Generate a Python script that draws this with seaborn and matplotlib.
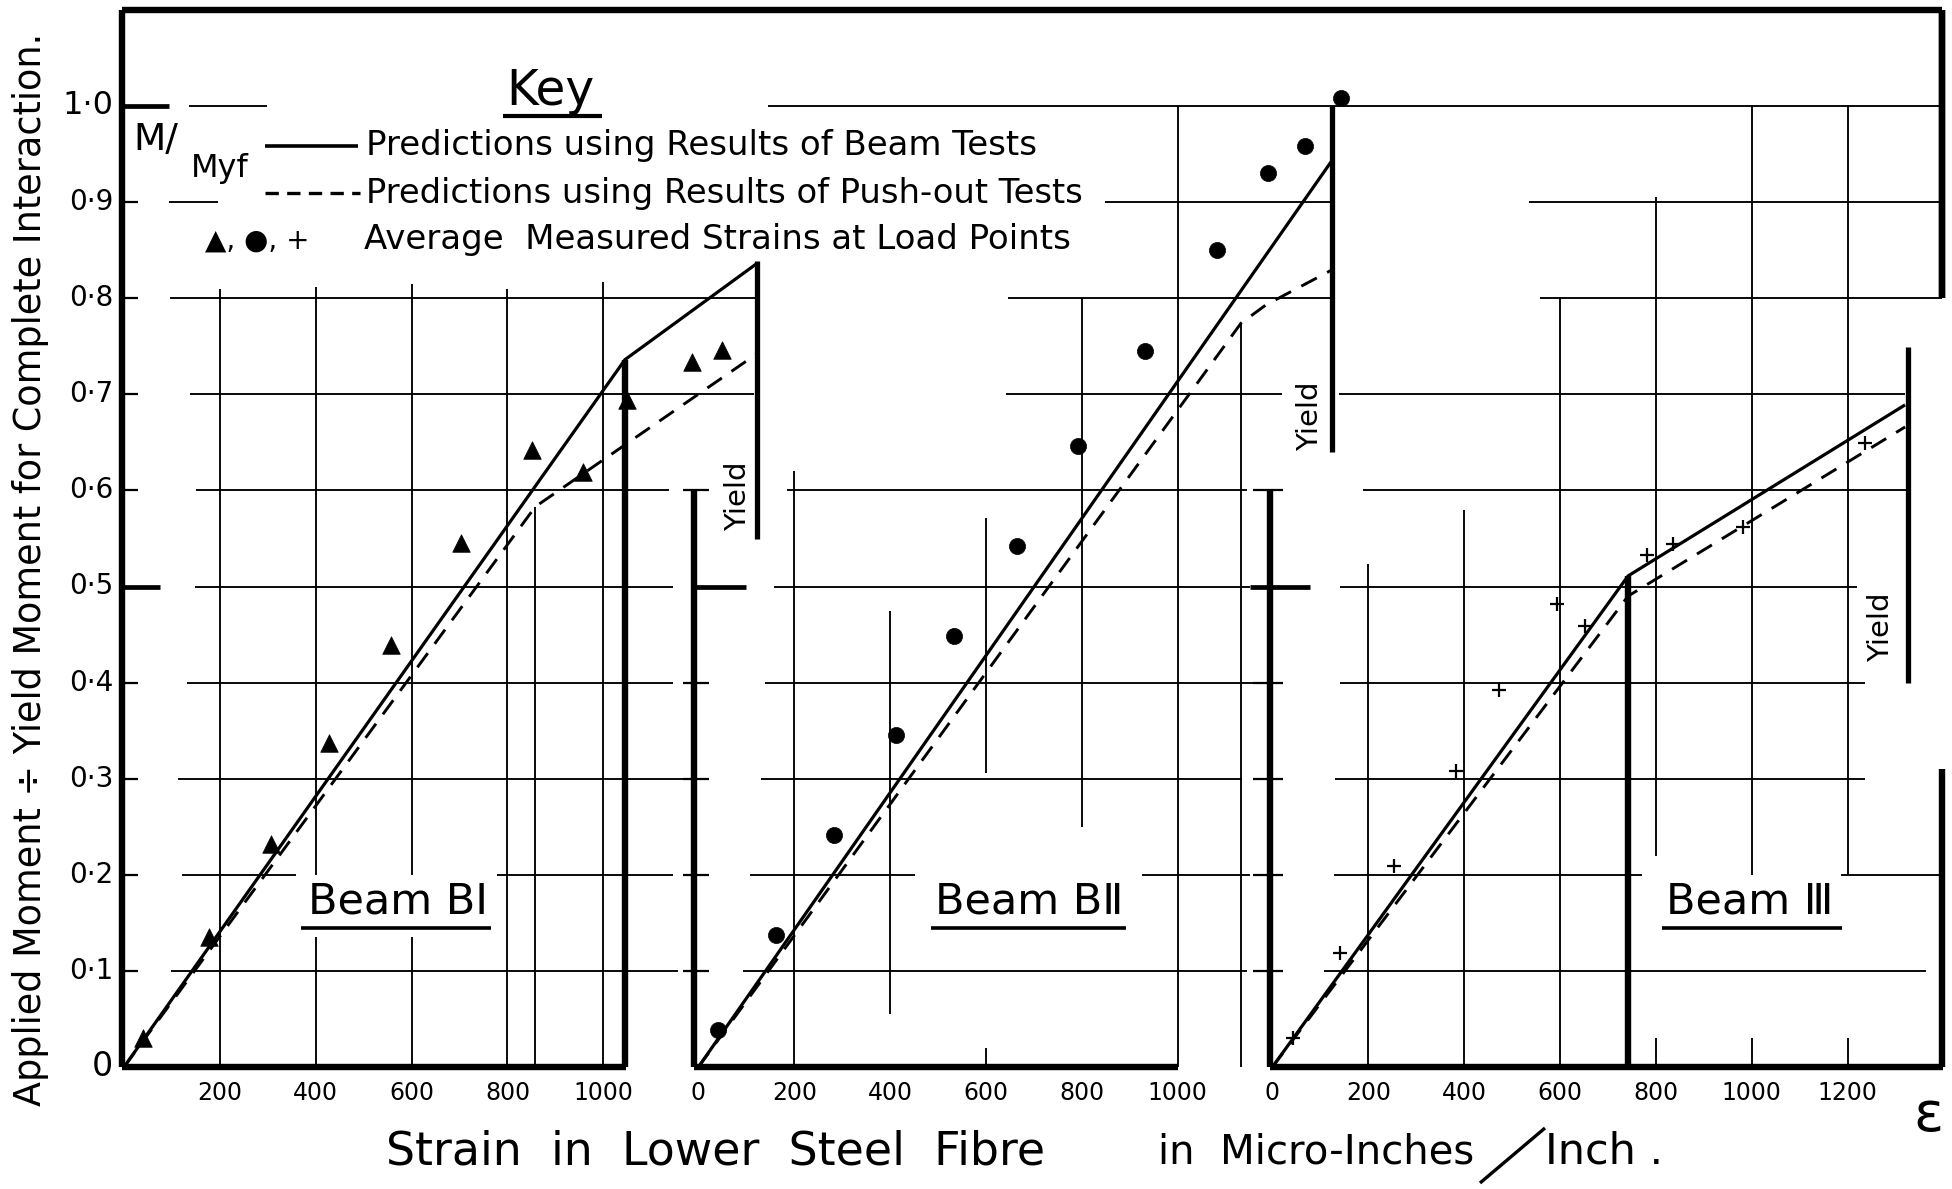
import matplotlib
matplotlib.use("Agg")
import matplotlib.pyplot as plt
import seaborn as sns

# ---------------------------------------------------------------------------
# Moment ratio M/Myf against strain in the lower steel fibre (micro-in/in)
# ---------------------------------------------------------------------------
b1_beam_strain = [0, 1045, 1320]
b1_beam_ratio = [0.0, 0.736, 0.836]
b1_push_strain = [0, 858, 1320]
b1_push_ratio = [0.0, 0.583, 0.742]
b1_meas_strain = [39, 177, 306, 428, 556, 703, 851, 958, 1050, 1185, 1248]
b1_meas_ratio = [0.030, 0.135, 0.232, 0.337, 0.439, 0.545, 0.642, 0.619, 0.694, 0.734, 0.746]

b2_beam_strain = [0, 1320]
b2_beam_ratio = [0.0, 0.942]
b2_push_strain = [0, 1132, 1184, 1320]
b2_push_ratio = [0.0, 0.774, 0.793, 0.829]
b2_meas_strain = [41, 161, 282, 412, 533, 665, 792, 931, 1082, 1189, 1265, 1341]
b2_meas_ratio = [0.038, 0.137, 0.241, 0.345, 0.448, 0.542, 0.646, 0.745, 0.850, 0.930, 0.958, 1.008]

b3_beam_strain = [0, 742, 1320]
b3_beam_ratio = [0.0, 0.511, 0.689]
b3_push_strain = [0, 742, 1320]
b3_push_ratio = [0.0, 0.490, 0.666]
b3_meas_strain = [44, 142, 253, 383, 472, 593, 653, 781, 836, 981, 1236]
b3_meas_ratio = [0.030, 0.119, 0.209, 0.308, 0.392, 0.482, 0.459, 0.533, 0.544, 0.562, 0.649]

# yield strain of each beam and the extent of its marker bar
yield_strain = [1320, 1322, 1325]
yield_extent = [(0.549, 0.839), (0.640, 1.0), (0.400, 0.749)]

y_tick_values = [0.0, 0.1, 0.2, 0.3, 0.4, 0.5, 0.6, 0.7, 0.8, 0.9, 1.0]
y_tick_labels = ["0", "0·1", "0·2", "0·3", "0·4", "0·5", "0·6", "0·7", "0·8", "0·9", "1·0"]
b1_x_ticks = [200, 400, 600, 800, 1000]
b2_x_ticks = [0, 200, 400, 600, 800, 1000]
b3_x_ticks = [0, 200, 400, 600, 800, 1000, 1200]

beam_titles = ["Beam BⅠ", "Beam BⅡ", "Beam Ⅲ"]

# ---------------------------------------------------------------------------
# Page geometry (pixels) and common scales
# ---------------------------------------------------------------------------
FIG_W, FIG_H = 1952, 1189
PX_PER_STRAIN = 0.47933
PX_PER_UNIT = 961.0
ZERO_ROW = 1067.0            # pixel row of M/Myf = 0
ORIGINS = [124.0, 698.4, 1272.4]  # pixel column of zero strain for each beam

INK = "black"
THIN, MED, THICK = 1.35, 2.3, 4.6

sns.set_theme(style="white")
plt.rcParams["font.family"] = ["DejaVu Sans"]
plt.rcParams["lines.solid_capstyle"] = "butt"

fig = plt.figure(figsize=(FIG_W / 100, FIG_H / 100), dpi=100)
fig.patch.set_facecolor("white")


def limits_for(origin):
    xlim = (-origin / PX_PER_STRAIN, (FIG_W - origin) / PX_PER_STRAIN)
    ylim = ((ZERO_ROW - FIG_H) / PX_PER_UNIT, ZERO_ROW / PX_PER_UNIT)
    return xlim, ylim


def make_panel():
    ax = fig.add_axes([0, 0, 1, 1])
    ax.set_axis_off()
    ax.patch.set_visible(False)
    return ax


def rule(ax, hsegs=(), vsegs=(), lw=THIN):
    for v, a, b in hsegs:
        ax.plot([a, b], [v, v], color=INK, lw=lw)
    for s, a, b in vsegs:
        ax.plot([s, s], [a, b], color=INK, lw=lw)


def draw_beam(ax, bs, br, ps, pr, ms, mr, marker, size, mlw):
    sns.lineplot(x=bs, y=br, ax=ax, color=INK, linewidth=MED, sort=False,
                 estimator=None, legend=False)
    sns.lineplot(x=ps, y=pr, ax=ax, color=INK, linewidth=2.1, linestyle=(0, (6, 4)),
                 sort=False, estimator=None, legend=False)
    if marker == "+":
        sns.scatterplot(x=ms, y=mr, ax=ax, marker=marker, s=size, color=INK,
                        linewidth=mlw, legend=False, zorder=5)
    else:
        sns.scatterplot(x=ms, y=mr, ax=ax, marker=marker, s=size, color=INK,
                        edgecolor=INK, linewidth=mlw, legend=False, zorder=5)


def x_tick_labels(ax, ticks):
    for t in ticks:
        ax.text(t, -0.027, str(t), ha="center", va="center", fontsize=17, color=INK)


ax1, ax2, ax3 = [make_panel() for _ in ORIGINS]

# ---------------------------- Beam BI --------------------------------------
rule(ax1,
     hsegs=[(0.1, 99, 1156), (0.2, 122, 358), (0.2, 779, 1145), (0.3, 112, 1169),
            (0.4, 132, 1145), (0.5, 148, 1145), (0.6, 151, 1138), (0.7, 137, 1314),
            (0.8, 96, 1319), (0.9, 94, 197), (1.0, 136, 299)],
     vsegs=[(200, 0, 0.81), (400, 0, 0.135), (400, 0.2, 0.812), (600, 0, 0.135),
            (600, 0.2, 0.815), (800, 0, 0.81), (1000, 0, 0.817), (858, 0, 0.583)])
# tick stubs on the common ordinate
rule(ax1, hsegs=[(v, -5, 30) for v in y_tick_values if v not in (0.5, 1.0)], lw=1.6)
rule(ax1, hsegs=[(0.5, -5, 75), (1.0, -5, 94)], lw=3.4)
# axes, frame and end-of-linear column
rule(ax1, hsegs=[(0.0, -5, 1048), (1.10, -5, 3792)],
     vsegs=[(-5, 0, 1.10), (1045, 0, 0.736), (3792, 0.80, 1.10)], lw=THICK)
draw_beam(ax1, b1_beam_strain, b1_beam_ratio, b1_push_strain, b1_push_ratio,
          b1_meas_strain, b1_meas_ratio, "^", 160, 0.5)
for v, lab in zip(y_tick_values, y_tick_labels):
    size = 24 if lab == "0" else (23 if lab == "1·0" else 20)
    ax1.text(-22, v, lab, ha="right", va="center", fontsize=size, color=INK)
x_tick_labels(ax1, b1_x_ticks)

# ---------------------------- Beam BII -------------------------------------
rule(ax2,
     hsegs=[(0.1, 94, 1144), (0.2, 107, 451), (0.2, 926, 1150), (0.3, 130, 1135),
            (0.4, 138, 1169), (0.5, 158, 1151), (0.6, 184, 1145), (0.7, 641, 1218),
            (0.8, 645, 1327), (0.9, 848, 1327), (1.0, 145, 2594)],
     vsegs=[(200, 0, 0.62), (400, 0.055, 0.474), (600, 0.306, 0.571), (600, 0, 0.02),
            (800, 0.25, 0.80), (1000, 0, 1.0), (1132, 0, 0.774)])
rule(ax2, hsegs=[(v, -32, 22) for v in (0.1, 0.2, 0.3, 0.4, 0.6)], lw=1.6)
rule(ax2, hsegs=[(0.5, -10, 100)], lw=3.4)
rule(ax2, hsegs=[(0.0, -10, 1000)], vsegs=[(-10, 0, 0.6)], lw=THICK)
draw_beam(ax2, b2_beam_strain, b2_beam_ratio, b2_push_strain, b2_push_ratio,
          b2_meas_strain, b2_meas_ratio, "o", 135, 0.5)
x_tick_labels(ax2, b2_x_ticks)

# ---------------------------- Beam III -------------------------------------
rule(ax3,
     hsegs=[(0.1, 107, 1363), (0.2, 128, 771), (0.2, 1186, 1397), (0.3, 130, 1237),
            (0.4, 140, 1237), (0.5, 140, 1219), (0.6, 190, 1325), (0.7, 138, 1319),
            (0.8, 558, 1397), (0.9, 535, 1397)],
     vsegs=[(200, 0, 0.523), (400, 0, 0.58), (600, 0, 0.80), (800, 0.22, 0.905),
            (800, 0, 0.03), (1000, 0.2, 1.0), (1000, 0, 0.03), (1200, 0.2, 1.0),
            (1200, 0, 0.03)])
rule(ax3, hsegs=[(v, -40, 22) for v in (0.1, 0.2, 0.3, 0.4, 0.6)], lw=1.6)
rule(ax3, hsegs=[(0.5, -47, 78)], lw=3.4)
rule(ax3, hsegs=[(0.0, -5, 1399)],
     vsegs=[(-5, 0, 0.6), (742, 0, 0.511), (1397, 0, 0.31), (1397, 0.80, 1.10)], lw=THICK)
draw_beam(ax3, b3_beam_strain, b3_beam_ratio, b3_push_strain, b3_push_ratio,
          b3_meas_strain, b3_meas_ratio, "+", 110, 1.6)
x_tick_labels(ax3, b3_x_ticks)

# ---------------------------- yield bars and titles ------------------------
title_pos = [(571, 0.172, 369, 766), (690, 0.172, 486, 893), (995, 0.172, 813, 1189)]
yield_text_pos = [(1281, 0.594), (1275, 0.677), (1270, 0.458)]
for ax, ys, (lo, hi), (tx, ty, u0, u1), (yx, yy), title in zip(
        (ax1, ax2, ax3), yield_strain, yield_extent, title_pos, yield_text_pos, beam_titles):
    ax.plot([ys, ys], [lo, hi], color=INK, lw=3.8)
    ax.text(yx, yy, "Yield", rotation=90, ha="center", va="center", fontsize=21, color=INK)
    ax.text(tx, ty, title, ha="center", va="center", fontsize=31, color=INK)
    ax.plot([u0, u1], [0.145, 0.145], color=INK, lw=2.6)

for ax, origin in zip((ax1, ax2, ax3), ORIGINS):
    xlim, ylim = limits_for(origin)
    ax.set_xlim(*xlim)
    ax.set_ylim(*ylim)

# ---------------------------- key and axis titles (page pixels) ------------
page = fig.add_axes([0, 0, 1, 1])
page.set_axis_off()
page.patch.set_visible(False)
page.set_xlim(0, FIG_W)
page.set_ylim(FIG_H, 0)

page.text(550, 91, "Key", ha="center", va="center", fontsize=35, color=INK)
page.plot([503, 602], [116, 116], color=INK, lw=3.0)
page.text(156, 140, "M/", ha="center", va="center", fontsize=27, color=INK)
page.text(220, 168, "Myf", ha="center", va="center", fontsize=23, color=INK)

page.plot([265, 358], [146, 146], color=INK, lw=2.6)
page.text(366, 146, "Predictions using Results of Beam Tests", ha="left", va="center",
          fontsize=24.5, color=INK)
page.plot([265, 360], [193, 193], color=INK, lw=2.4, linestyle=(0, (4, 2.5)))
page.text(366, 193, "Predictions using Results of Push-out Tests", ha="left", va="center",
          fontsize=24.3, color=INK)
page.text(205, 241, "▲, ●, +", ha="left", va="center", fontsize=20, color=INK)
page.text(364, 240, "Average  Measured Strains at Load Points", ha="left", va="center",
          fontsize=24.5, color=INK)

page.text(31, 569, "Applied Moment ÷ Yield Moment for Complete Interaction.", rotation=90,
          ha="center", va="center", fontsize=26.3, color=INK)

page.text(716, 1152, "Strain  in  Lower  Steel  Fibre", ha="center", va="center",
          fontsize=33, color=INK)
page.text(1158, 1152, "in  Micro-Inches", ha="left", va="center", fontsize=29, color=INK)
page.plot([1480, 1545], [1183, 1128], color=INK, lw=2.4)
page.text(1545, 1152, "Inch .", ha="left", va="center", fontsize=31, color=INK)
page.text(1928, 1116, "ε", ha="center", va="center", fontsize=40, color=INK)

fig.savefig("out.png", dpi=100, facecolor="white")
